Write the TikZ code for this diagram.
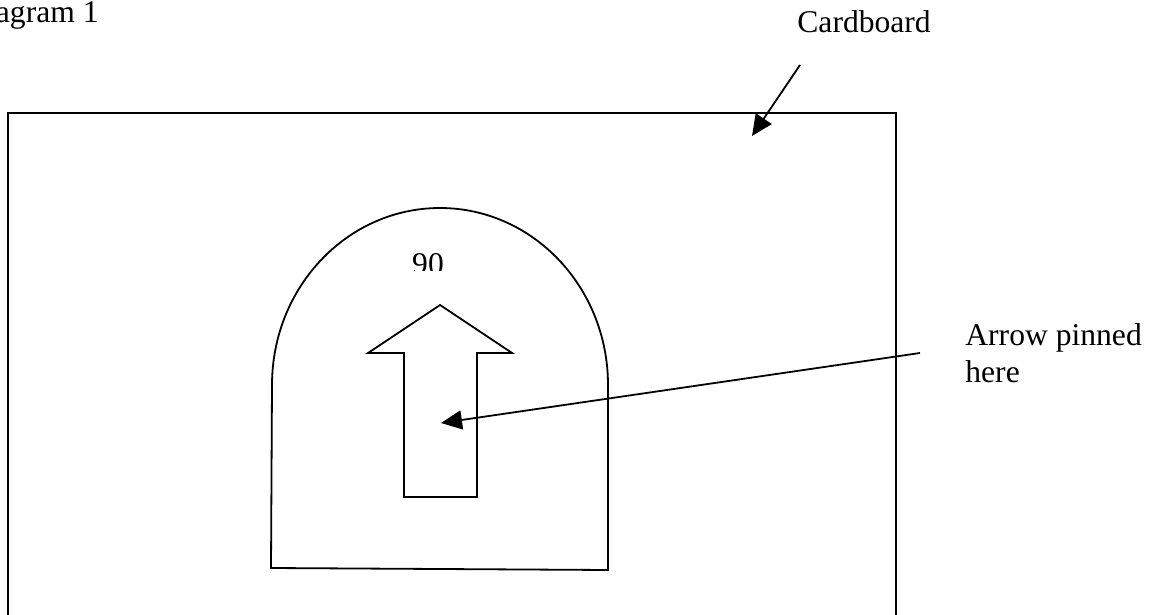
\documentclass[tikz,border=0pt]{standalone}
\usepackage{fontspec}
\setmainfont{Liberation Serif}
\usepackage{tikz}
\usetikzlibrary{arrows.meta}

\begin{document}
\begin{tikzpicture}[
    x=0.5pt, y=0.5pt,
    txt/.style={inner sep=0pt, font=\fontsize{15.8}{18.5}\selectfont},
    outline/.style={line width=0.9pt, line join=miter},
    arr/.style={-{Triangle[length=10.5pt, width=9.5pt]}, line width=0.9pt},
]
\useasboundingbox (0,0) rectangle (1157,-615);
\clip (0,0) rectangle (1157,-615);

% labels
\node[txt, anchor=base east] (title) at (99,-23) {Diagram 1};
\node[txt, anchor=base west] (card)  at (797,-33) {Cardboard};
\node[txt, anchor=base west, align=left] (pinned) at (965,-382) {Arrow pinned\\here};

% cardboard sheet (runs off the bottom)
\draw[outline] (8,-640) -- (8,-113) -- (896,-113) -- (896,-640);

% dial
\draw[outline] (271,-568) -- (272,-385)
    arc[start angle=180, end angle=0, x radius=168, y radius=177]
    -- (608,-570) -- cycle;
\begin{scope}
  \clip (380,-200) rectangle (480,-270);
  \node[txt, anchor=base] (deg) at (428,-274) {90};
\end{scope}

% pointer
\draw[outline] (404,-497) -- (404,-353) -- (368,-353) -- (440,-305)
    -- (512,-353) -- (477,-353) -- (477,-497) -- cycle;

% connectors
\coordinate (cardtail) at (800,-65);
\coordinate (cardtip)  at (752,-136);
\coordinate (pintail)  at (920,-353);
\coordinate (pin)      at (441,-423);
\draw[arr] (cardtail) -- (cardtip);
\draw[arr] (pintail) -- (pin);
\end{tikzpicture}
\end{document}
